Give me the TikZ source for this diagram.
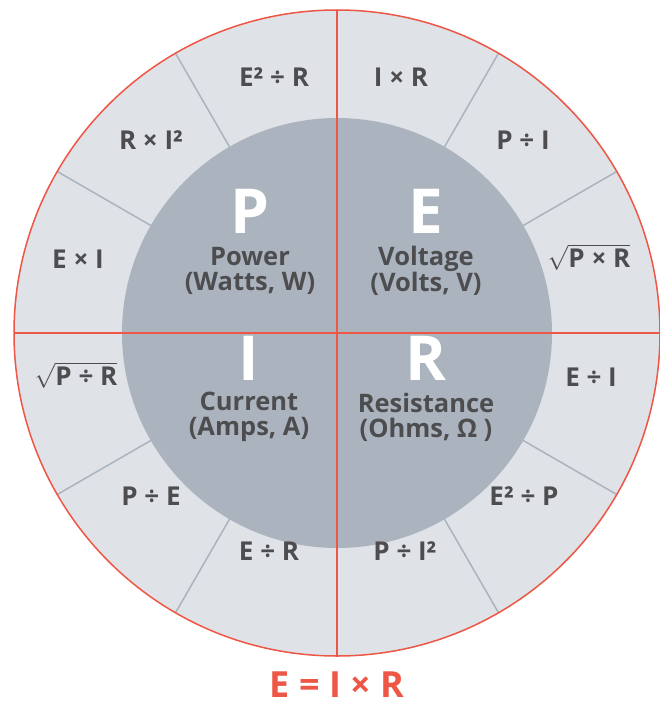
\documentclass[tikz,border=0pt]{standalone}
\usepackage{fontspec}
\setmainfont{Open Sans}
\usepackage{tikz}
\usetikzlibrary{calc}

\definecolor{ringgray}{HTML}{DFE2E6}
\definecolor{coregray}{HTML}{ABB4BE}
\definecolor{ohmred}{HTML}{EE5646}
\definecolor{textgray}{HTML}{4D4D4F}
\definecolor{sepgray}{HTML}{A9B4BF}

\begin{document}
\begin{tikzpicture}[
  x=1pt, y=-1pt,
  formula/.style={font=\bfseries\fontsize{26}{26}\selectfont, text=textgray},
  letter/.style={font=\bfseries\fontsize{62}{62}\selectfont, text=white},
  quantity/.style={font=\bfseries\fontsize{25.5}{25}\selectfont, text=textgray, align=center},
  sep/.style={draw=sepgray, line width=1.5pt},
  redline/.style={draw=ohmred, line width=1.5pt}
]
\useasboundingbox (0,0) rectangle (660,706);
\coordinate (O) at (337,333);

% rings
\fill[ringgray] (O) circle (323pt);
\foreach \a in {30,60,120,150,210,240,300,330}
  \draw[sep] ($(O)+(\a:214pt)$) -- ($(O)+(\a:323pt)$);
\fill[coregray] (O) circle (215pt);

% red cross and rim
\coordinate (top) at ($(O)+(90:323pt)$);
\coordinate (bot) at ($(O)+(-90:323pt)$);
\coordinate (lft) at ($(O)+(180:323pt)$);
\coordinate (rgt) at ($(O)+(0:323pt)$);
\draw[redline] (top) -- (bot);
\draw[redline] (lft) -- (rgt);
\draw[redline] (O) circle (323pt);

% quadrants
\node[letter] (P) at (250,211) {P};
\node[letter] (E) at (426,211) {E};
\node[letter] (I) at (249,358) {I};
\node[letter] (R) at (426,358) {R};
\node[quantity] (power) at (250,271) {Power\\(Watts, W)};
\node[quantity] (voltage) at (426,271) {Voltage\\(Volts, V)};
\node[quantity] (current) at (249,417) {Current\\(Amps, A)};
\node[quantity] (resist) at (426,417) {Resistance\\(Ohms, Ω )};

% formulas
\node[formula] (e2r) at (274,77) {E² ÷ R};
\node[formula] (ir) at (401,77) {I × R};
\node[formula] (ri2) at (151,140) {R × I²};
\node[formula] (pi) at (523,140) {P ÷ I};
\node[formula] (ei) at (78,259) {E × I};
\node[formula] (sqpr) at (589,257) {$\sqrt{\mbox{P × R}}$};
\node[formula] (sqpdr) at (76,375) {$\sqrt{\mbox{P ÷ R}}$};
\node[formula] (edi) at (591,377) {E ÷ I};
\node[formula] (pe) at (151,496) {P ÷ E};
\node[formula] (e2p) at (524,496) {E² ÷ P};
\node[formula] (er) at (269,551) {E ÷ R};
\node[formula] (pi2) at (405,551) {P ÷ I²};

\node[font=\bfseries\fontsize{36}{36}\selectfont, text=ohmred, inner sep=0pt, anchor=base] (law) at (337,697) {E = I × R};
\end{tikzpicture}
\end{document}
